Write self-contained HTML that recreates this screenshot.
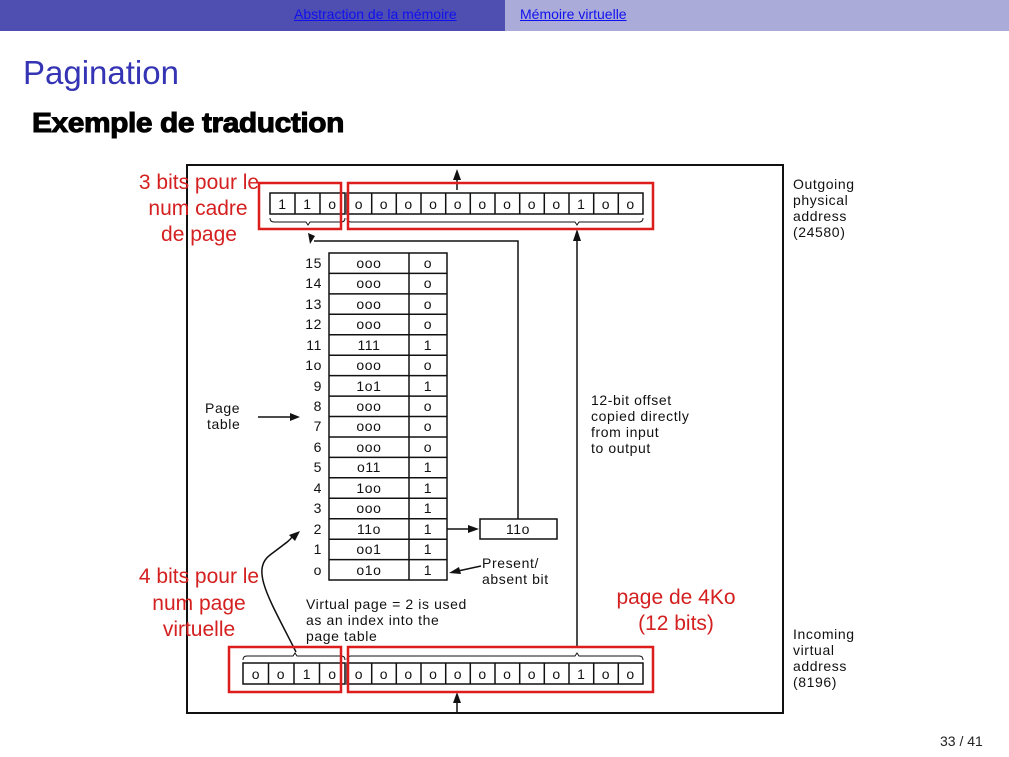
<!DOCTYPE html>
<html><head><meta charset="utf-8"><style>
html,body{margin:0;padding:0;background:#fff;}
body{width:1009px;height:757px;overflow:hidden;position:relative;font-family:"Liberation Sans",sans-serif;}
.hl{position:absolute;top:0;left:0;width:505px;height:31px;background:#4f4fb2;}
.hr{position:absolute;top:0;left:505px;width:504px;height:31px;background:#ababd9;}
.hl a,.hr a{position:absolute;top:6px;font-size:14px;color:#1010ee;text-decoration:underline;}
</style></head><body>
<div class="hl"><a style="left:294px">Abstraction de la mémoire</a></div>
<div class="hr"><a style="left:15px">Mémoire virtuelle</a></div>
<svg width="1009" height="726" style="position:absolute;left:0;top:31px;overflow:visible" viewBox="0 31 1009 726">
<text x="23" y="84" font-size="33" fill="#3434b4" font-family="Liberation Sans">Pagination</text>
<text x="32" y="132" font-size="28" font-weight="bold" letter-spacing="-0.4" fill="#000" stroke="#000" stroke-width="1" font-family="Liberation Sans" textLength="312" lengthAdjust="spacingAndGlyphs">Exemple de traduction</text>
<text x="940" y="746" font-size="14" fill="#222" font-family="Liberation Sans">33 / 41</text>

<rect x="187" y="165" width="596" height="548" fill="none" stroke="#111" stroke-width="2"/>
<g font-family="Liberation Sans" font-size="14" fill="#111" letter-spacing="0.6">
<g stroke="#111" stroke-width="1.5" fill="none">
<rect x="270" y="193" width="75" height="21"/>
<line x1="295" y1="193" x2="295" y2="214"/><line x1="320" y1="193" x2="320" y2="214"/>
<rect x="347" y="193" width="296" height="21"/>
<path d="M371.7 193v21M396.3 193v21M421 193v21M445.7 193v21M470.3 193v21M495 193v21M519.7 193v21M544.3 193v21M569 193v21M593.7 193v21M618.3 193v21"/>
<rect x="243" y="663" width="102" height="21"/>
<line x1="268.5" y1="663" x2="268.5" y2="684"/><line x1="294" y1="663" x2="294" y2="684"/><line x1="319.5" y1="663" x2="319.5" y2="684"/>
<rect x="347" y="663" width="296" height="21"/>
<path d="M371.7 663v21M396.3 663v21M421 663v21M445.7 663v21M470.3 663v21M495 663v21M519.7 663v21M544.3 663v21M569 663v21M593.7 663v21M618.3 663v21"/>
<path stroke-width="1" d="M270 218q0 4 4 4h32l2 3l2-3h31q4 0 4-4"/>
<path stroke-width="1" d="M347 218q0 4 4 4h224l2 3l2-3h60q4 0 4-4"/>
<path stroke-width="1" d="M243 660q0-4 4-4h46l2-3l2 3h44q4 0 4 4"/>
<path stroke-width="1" d="M347 660q0-4 4-4h224l2-3l2 3h60q4 0 4 4"/>
</g>
<g text-anchor="middle">
<text x="282.5" y="209">1</text><text x="307.5" y="209">1</text><text x="332.5" y="209">o</text>
<text x="359" y="209">o</text><text x="384" y="209">o</text><text x="408.6" y="209">o</text><text x="433.3" y="209">o</text><text x="458" y="209">o</text><text x="482.6" y="209">o</text><text x="507.3" y="209">o</text><text x="532" y="209">o</text><text x="556.6" y="209">o</text><text x="581.3" y="209">1</text><text x="606" y="209">o</text><text x="630.6" y="209">o</text>
<text x="256" y="679">o</text><text x="281" y="679">o</text><text x="307" y="679">1</text><text x="332.5" y="679">o</text>
<text x="359" y="679">o</text><text x="384" y="679">o</text><text x="408.6" y="679">o</text><text x="433.3" y="679">o</text><text x="458" y="679">o</text><text x="482.6" y="679">o</text><text x="507.3" y="679">o</text><text x="532" y="679">o</text><text x="556.6" y="679">o</text><text x="581.3" y="679">1</text><text x="606" y="679">o</text><text x="630.6" y="679">o</text>
</g>
<g stroke="#111" stroke-width="1.5" fill="none">
<rect x="329" y="253" width="118" height="327"/>
<line x1="409" y1="253" x2="409" y2="580"/>
<path d="M329 273.4h118M329 293.9h118M329 314.3h118M329 334.8h118M329 355.2h118M329 375.6h118M329 396.1h118M329 416.5h118M329 437h118M329 457.4h118M329 477.8h118M329 498.3h118M329 518.7h118M329 539.2h118M329 559.6h118"/>
<rect x="480" y="519" width="77" height="20"/>
</g>
<g text-anchor="middle">
<text x="369" y="268">ooo</text><text x="428" y="268">o</text>
<text x="369" y="288">ooo</text><text x="428" y="288">o</text>
<text x="369" y="309">ooo</text><text x="428" y="309">o</text>
<text x="369" y="329">ooo</text><text x="428" y="329">o</text>
<text x="369" y="350">111</text><text x="428" y="350">1</text>
<text x="369" y="370">ooo</text><text x="428" y="370">o</text>
<text x="369" y="391">1o1</text><text x="428" y="391">1</text>
<text x="369" y="411">ooo</text><text x="428" y="411">o</text>
<text x="369" y="431">ooo</text><text x="428" y="431">o</text>
<text x="369" y="452">ooo</text><text x="428" y="452">o</text>
<text x="369" y="472">o11</text><text x="428" y="472">1</text>
<text x="369" y="493">1oo</text><text x="428" y="493">1</text>
<text x="369" y="513">ooo</text><text x="428" y="513">1</text>
<text x="369" y="534">11o</text><text x="428" y="534">1</text>
<text x="369" y="554">oo1</text><text x="428" y="554">1</text>
<text x="369" y="575">o1o</text><text x="428" y="575">1</text>
<text x="518" y="534">11o</text>
</g>
<g text-anchor="end">
<text x="322" y="268">15</text><text x="322" y="288">14</text><text x="322" y="309">13</text><text x="322" y="329">12</text>
<text x="322" y="350">11</text><text x="322" y="370">1o</text><text x="322" y="391">9</text><text x="322" y="411">8</text>
<text x="322" y="431">7</text><text x="322" y="452">6</text><text x="322" y="472">5</text><text x="322" y="493">4</text>
<text x="322" y="513">3</text><text x="322" y="534">2</text><text x="322" y="554">1</text><text x="322" y="575">o</text>
</g>
<text x="205" y="413">Page</text><text x="207" y="429">table</text>
<text x="591" y="405">12-bit offset</text><text x="591" y="421">copied directly</text><text x="591" y="437">from input</text><text x="591" y="453">to output</text>
<text x="482" y="568">Present/</text><text x="482" y="584">absent bit</text>
<text x="306" y="609">Virtual page = 2 is used</text><text x="306" y="625">as an index into the</text><text x="306" y="641">page table</text>
<text x="793" y="189">Outgoing</text><text x="793" y="205">physical</text><text x="793" y="221">address</text><text x="793" y="237">(24580)</text>
<text x="793" y="639">Incoming</text><text x="793" y="655">virtual</text><text x="793" y="671">address</text><text x="793" y="687">(8196)</text>
</g>
<g stroke="#111" stroke-width="1.5" fill="none">
<line x1="457" y1="190" x2="457" y2="176"/>
<line x1="457" y1="713" x2="457" y2="700"/>
<line x1="577" y1="647" x2="577" y2="240"/>
<path d="M518 519V241H314"/>
<line x1="258" y1="417" x2="292" y2="417"/>
<line x1="447" y1="529" x2="470" y2="529"/>
<line x1="481" y1="566" x2="458" y2="571"/>
<path d="M296 652C270 600 250 570 270 555S290 540 292 537"/>
</g>
<g fill="#111">
<path d="M457 169l-4 11h8z"/>
<path d="M457 692l-4 11h8z"/>
<path d="M577 229l-4 12h8z"/>
<path d="M308 233l2 11l5-8z"/>
<path d="M300 417l-10-4v8z"/>
<path d="M479 529l-11-4v8z"/>
<path d="M449 573l10-6l2 7z"/>
<path d="M300 531l-11 4l6 6z"/>
</g>
<g stroke="#dd1c1c" stroke-width="2.5" fill="none">
<rect x="259" y="183" width="82" height="46"/>
<rect x="348" y="183" width="305" height="46"/>
<rect x="229" y="647" width="112" height="45"/>
<rect x="348" y="647" width="305" height="45"/>
</g>
<g fill="#d42020" font-family="Liberation Sans" font-size="21" text-anchor="middle">
<text x="199" y="189">3 bits pour le</text>
<text x="198" y="215">num cadre</text>
<text x="199" y="241">de page</text>
<text x="199" y="583">4 bits pour le</text>
<text x="199" y="610">num page</text>
<text x="199" y="636">virtuelle</text>
<text x="676" y="604">page de 4Ko</text>
<text x="676" y="630">(12 bits)</text>
</g>
</svg>
</body></html>
